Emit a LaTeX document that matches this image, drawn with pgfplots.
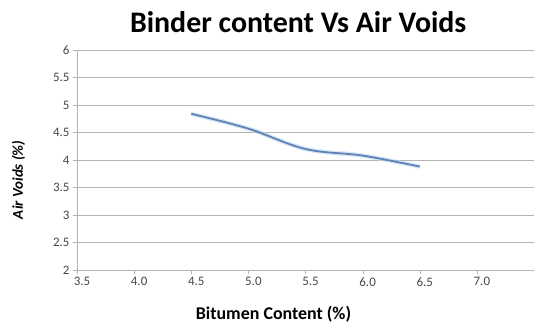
\documentclass[border=0pt]{standalone}
\usepackage{fontspec}
\setmainfont{Carlito}
\usepackage{pgfplots}
\pgfplotsset{compat=1.18}
\definecolor{gridc}{RGB}{180,180,180}
\definecolor{linec}{RGB}{95,130,180}
\definecolor{glowc}{RGB}{190,215,240}
\definecolor{tickc}{RGB}{70,70,70}
\begin{document}
\begin{tikzpicture}
\useasboundingbox (-77bp,-54bp) rectangle (457bp,270bp);
\begin{axis}[
  scale only axis,
  width=457bp, height=220bp,
  anchor=south west, at={(0,0)},
  xmin=3.5, xmax=7.5, ymin=2, ymax=6,
  xtick={3.5,4,4.5,5,5.5,6,6.5,7},
  xticklabels={3.5,4.0,4.5,5.0,5.5,6.0,6.5,7.0},
  ytick={2,2.5,3,3.5,4,4.5,5,5.5,6},
  yticklabels={2,2.5,3,3.5,4,4.5,5,5.5,6},
  axis x line*=bottom, axis y line*=left,
  axis line style={gridc, -},
  tick align=outside,
  tick style={gridc},
  major tick length=4bp,
  ymajorgrids, grid style={gridc, line width=0.9pt},
  /pgf/number format/assume math mode=true,
  tick label style={font=\fontsize{13}{14}\selectfont, text=tickc},
  xticklabel style={xshift=5bp},
  title={\bfseries Binder content Vs Air Voids},
  title style={font=\fontsize{30}{32}\selectfont, at={(axis description cs:0.484,1)}, anchor=center, yshift=22bp},
  xlabel={\bfseries Bitumen Content (\%)},
  xlabel style={font=\fontsize{18}{19}\selectfont, at={(axis description cs:0.43,0)}, anchor=center, yshift=-44bp},
  ylabel={\bfseries\itshape Air Voids (\%)},
  ylabel style={font=\fontsize{15}{16}\selectfont, at={(axis description cs:-0.128,0.41)}, anchor=center},
  clip=false,
]
\addplot[glowc, line width=4.5pt, smooth, tension=0.6, opacity=0.6] coordinates {
  (4.5,4.84) (5.0,4.57) (5.5,4.20) (6.0,4.08) (6.5,3.88)};
\addplot[linec, line width=1.8pt, smooth, tension=0.6] coordinates {
  (4.5,4.84) (5.0,4.57) (5.5,4.20) (6.0,4.08) (6.5,3.88)};
\end{axis}
\end{tikzpicture}
\end{document}
